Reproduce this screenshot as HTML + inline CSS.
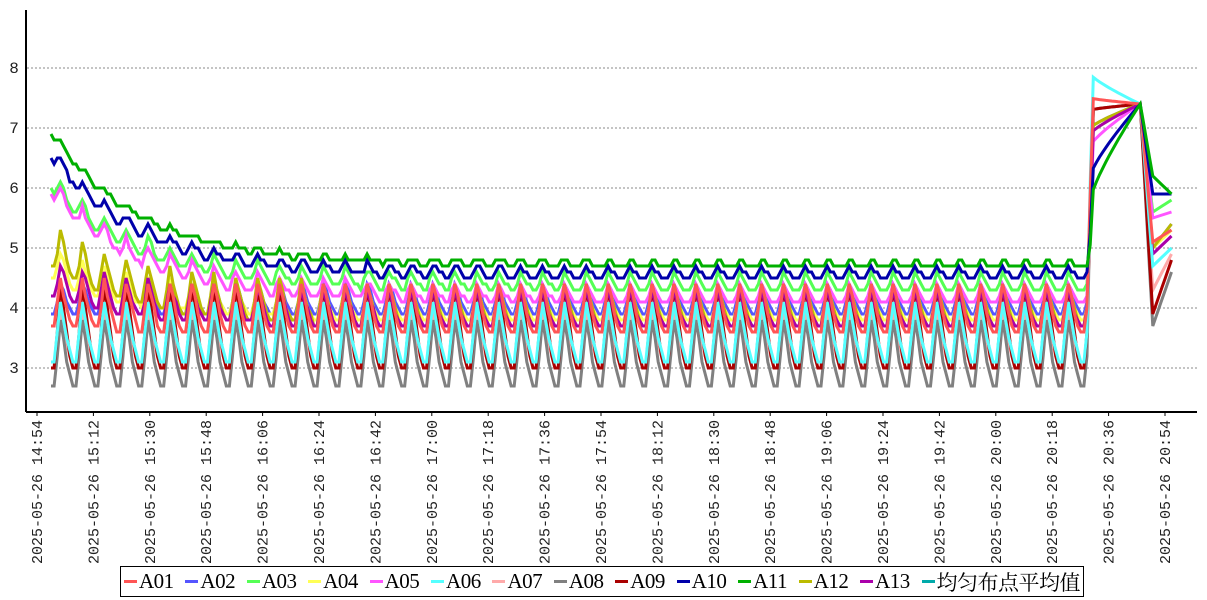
<!DOCTYPE html>
<html><head><meta charset="utf-8"><style>
body{margin:0;background:#fff;width:1207px;height:600px;overflow:hidden;font-family:"Liberation Serif","Noto Serif CJK SC",serif}
#lg{position:absolute;left:120px;top:566px;width:964px;height:31px;border:1px solid #000;display:flex;align-items:center;justify-content:space-between;box-sizing:border-box;padding:0 3px;font-size:21px;white-space:nowrap;letter-spacing:-0.5px}
#lg span{display:inline-flex;align-items:center}
#lg i{display:inline-block;width:13px;height:3px;margin-right:2px}
</style></head><body>
<svg id="s" width="1207" height="600" style="position:absolute;left:0;top:0"></svg>
<div id="lg"></div>
<script>
var s=document.getElementById('s'),h='';
function Y(v){return 368-(v-3)*60}
for(var v=3;v<=8;v++){h+='<line x1="27" x2="1197" y1="'+Y(v)+'" y2="'+Y(v)+'" stroke="#888" stroke-dasharray="2,2" stroke-width="1"/>';h+='<text x="14" y="'+(Y(v)+5)+'" font-size="16" font-family="Liberation Mono, monospace" text-anchor="middle" fill="#222">'+v+'</text>';}
h+='<line x1="26" y1="10" x2="26" y2="412" stroke="#000" stroke-width="2"/><line x1="26" y1="412" x2="1197" y2="412" stroke="#000" stroke-width="2"/>';
for(var k=0;k<=20;k++){var x=37+k*56.4,m=14*60+54+18*k,hh=Math.floor(m/60),mm=m%60;var t='2025-05-26 '+hh+':'+(mm<10?'0':'')+mm;h+='<line x1="'+x+'" x2="'+x+'" y1="412" y2="416" stroke="#000"/>';h+='<text transform="translate('+(x+5)+',420) rotate(-90)" font-size="15" font-family="Liberation Mono, monospace" text-anchor="end" fill="#222" xml:space="preserve">'+t+'</text>';}
var S=[
['A02','#5555ff',4.2,3.9,0.5,5.4,5.0,7.0],
['A03','#55ff55',6.0,4.3,0.3,5.8,5.6,6.9],
['A04','#ffff55',5.0,3.8,0.5,5.3,5.0,6.9],
['A05','#ff55ff',5.9,4.1,0.3,5.6,5.5,6.7],
['A07','#ffaaaa',3.6,3.0,1.0,4.9,4.3,7.3],
['A08','#808080',2.8,2.7,1.1,4.6,3.7,7.3],
['A09','#aa0000',3.5,3.0,1.4,4.8,3.9,7.3],
['A12','#bbbb00',5.4,3.7,0.7,5.4,5.0,7.0],
['A13','#aa00aa',4.8,3.7,0.6,5.2,4.9,6.9],
['A06','#55ffff',3.7,3.1,1.0,5.0,4.7,7.9],
['A01','#ff5555',4.5,3.6,0.8,5.3,5.1,7.5],
['A10','#0000aa',6.5,4.5,0.2,5.9,5.9,6.2],
['A11','#00b000',6.9,4.7,0.1,5.9,6.2,5.8]];
var N=359,pat=[0,0,0.45,1,0.7,0.4,0.15];
S.forEach(function(q,si){var p=[];for(var i=0;i<N;i++){var x=51+i*3.13,v;
 if(i<=331){var d=Math.exp(-i/28);var f=pat[i%7];
  if(q[4]<0.35){v=q[3]+(q[2]-q[3])*d+q[4]*f;}
  else{var base=q[3]+Math.max(0,q[2]-q[3]-q[4])*d;v=base+q[4]*f;}
  v=Math.round(v*10)/10;}
 else if(i<=348){var r=(i-332)/16;if(i==332)v=(q[7]+4.3)/2;else v=q[7]+(7.4-q[7])*Math.pow(r,0.8);}
 else if(i<=352){var r=(i-348)/4;v=7.4+(q[6]-7.4)*r;}
 else{var r=(i-352)/6;v=q[6]+(q[5]-q[6])*r;}
 p.push(x.toFixed(1)+','+Y(v).toFixed(1));}
 h+='<polyline points="'+p.join(' ')+'" fill="none" stroke="'+q[1]+'" stroke-width="3" stroke-linejoin="miter"/>';});
s.innerHTML=h;
var L=[['A01','#ff5555'],['A02','#5555ff'],['A03','#55ff55'],['A04','#ffff55'],['A05','#ff55ff'],['A06','#55ffff'],['A07','#ffaaaa'],['A08','#808080'],['A09','#aa0000'],['A10','#0000aa'],['A11','#00b000'],['A12','#bbbb00'],['A13','#aa00aa'],['均匀布点平均值','#00aaaa']];
document.getElementById('lg').innerHTML=L.map(function(a){return '<span><i style="background:'+a[1]+'"></i>'+a[0]+'</span>'}).join('');
</script>
</body></html>
